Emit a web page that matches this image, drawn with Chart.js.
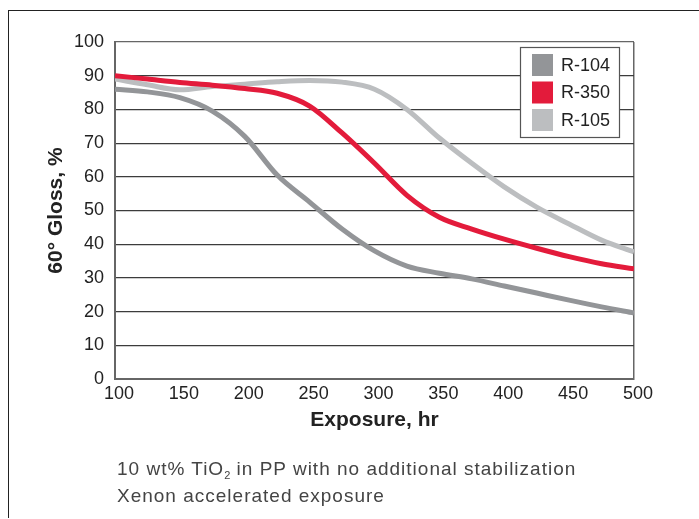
<!DOCTYPE html>
<html>
<head>
<meta charset="utf-8">
<script src="https://cdn.jsdelivr.net/npm/chart.js@4/dist/chart.umd.min.js"></script>
<style>
  html, body { margin: 0; padding: 0; background: #fff; }
  #wrap { position: relative; width: 699px; height: 519px; overflow: hidden; }
  #frame { position: absolute; left: 8px; top: 10px; width: 700px; height: 507px;
           border-top: 1.5px solid #222; border-left: 1.5px solid #222; }
  #chart { position: absolute; left: 0; top: 0; }
  .note { position: absolute; left: 117px; font: 19px "Liberation Sans", Arial, sans-serif;
          letter-spacing: 1px; color: #444; white-space: nowrap; }
  .note sub { font-size: 11px; vertical-align: -4px; line-height: 0; letter-spacing: 0; }
</style>
</head>
<body>
<div id="wrap">
  <div id="frame"></div>
  <canvas id="chart" width="699" height="519"></canvas>
  <div class="note" style="top:458px">10 wt% TiO<sub>2</sub> in PP with no additional stabilization</div>
  <div class="note" style="top:485px">Xenon accelerated exposure</div>
</div>
<script>
/***************************************
 * Data
 ***************************************/
const exposureHours = [100, 125, 150, 175, 200, 225, 250, 275, 300, 325, 350, 375, 400, 425, 450, 475, 500];

const seriesNames = ['R-104', 'R-350', 'R-105'];
const seriesColors = ['#939598', '#e31b3b', '#bcbec0'];

const glossR104 = [86, 85.2, 83.5, 79.5, 72, 60.5, 52.5, 44.5, 38, 33.5, 31.4, 29.7, 27.6, 25.5, 23.4, 21.4, 19.6];
const glossR350 = [90, 89, 88, 87.2, 86.2, 84.8, 81, 73, 64, 54.5, 48, 44.5, 41.5, 38.8, 36.3, 34.2, 32.7];
const glossR105 = [89, 87.3, 85.8, 86.8, 87.5, 88.2, 88.6, 88.1, 86, 80, 71.5, 64, 57, 51, 46, 41.2, 37.7];

const seriesValues = [glossR104, glossR350, glossR105];

const xTicks = [100, 150, 200, 250, 300, 350, 400, 450, 500];
const yTicks = [0, 10, 20, 30, 40, 50, 60, 70, 80, 90, 100];

/***************************************
 * Legend box drawn inside the plot
 ***************************************/
const boxLegend = {
  id: 'boxLegend',
  afterDatasetsDraw: function(chart) {
    const ctx = chart.ctx;
    const x0 = 520, y0 = 47, w = 99, h = 90;
    ctx.save();
    ctx.fillStyle = '#fff';
    ctx.fillRect(x0, y0, w, h);
    ctx.strokeStyle = '#555';
    ctx.lineWidth = 1.2;
    ctx.strokeRect(x0 + 0.5, y0 + 0.5, w, h);
    ctx.font = '18px "Liberation Sans", Arial, sans-serif';
    ctx.textBaseline = 'middle';
    chart.data.datasets.forEach((ds, i) => {
      const sy = 54 + i * 27.5;
      ctx.fillStyle = ds.borderColor;
      ctx.fillRect(532, sy, 21, 22);
      ctx.fillStyle = '#222';
      ctx.fillText(ds.label, 561, sy + 12);
    });
    ctx.restore();
  }
};

/***************************************
 * Chart
 ***************************************/
const tickFont = { family: '"Liberation Sans", Arial, sans-serif', size: 18 };
const titleFont = { family: '"Liberation Sans", Arial, sans-serif', size: 21, weight: 'bold' };

const chartElement = document.getElementById('chart').getContext('2d');
const glossChart = new Chart(chartElement, {
  type: 'line',
  data: {
    datasets: seriesNames.map((name, i) => ({
      label: name,
      data: exposureHours.map((h, j) => ({ x: h, y: seriesValues[i][j] })),
      borderColor: seriesColors[i],
      backgroundColor: seriesColors[i],
      borderWidth: 5,
      pointRadius: 0,
      cubicInterpolationMode: 'monotone',
      borderCapStyle: 'butt'
    }))
  },
  options: {
    responsive: false,
    animation: false,
    layout: { padding: { left: 0, top: 42, right: 65, bottom: 0 } },
    plugins: {
      legend: { display: false },
      tooltip: { enabled: false }
    },
    scales: {
      x: {
        type: 'linear',
        min: 100,
        max: 500,
        afterBuildTicks: (scale) => { scale.ticks = xTicks.map(v => ({ value: v })); },
        afterFit: (scale) => { scale.height = 140; },
        ticks: { color: '#222', font: tickFont, padding: 4, labelOffset: 4, maxRotation: 0 },
        grid: {
          drawTicks: false,
          lineWidth: 1.5,
          color: (c) => (c.tick && c.tick.value === 500) ? '#666' : 'rgba(0,0,0,0)'
        },
        border: { color: '#666', width: 2 },
        title: { display: true, text: 'Exposure, hr', color: '#222', font: titleFont,
                 padding: { top: 0, bottom: 86 } }
      },
      y: {
        min: 0,
        max: 100,
        afterBuildTicks: (scale) => { scale.ticks = yTicks.map(v => ({ value: v })); },
        afterFit: (scale) => { scale.width = 115; },
        ticks: { color: '#222', font: tickFont, padding: 11 },
        grid: {
          drawTicks: false,
          lineWidth: 1.2,
          color: (c) => (c.tick && c.tick.value === 100) ? '#666' : '#3c3c3c'
        },
        border: { color: '#666', width: 2 },
        title: { display: true, text: '60° Gloss, %', color: '#222', font: titleFont,
                 padding: { top: 44, bottom: 0 } }
      }
    }
  },
  plugins: [boxLegend]
});
</script>
</body>
</html>
